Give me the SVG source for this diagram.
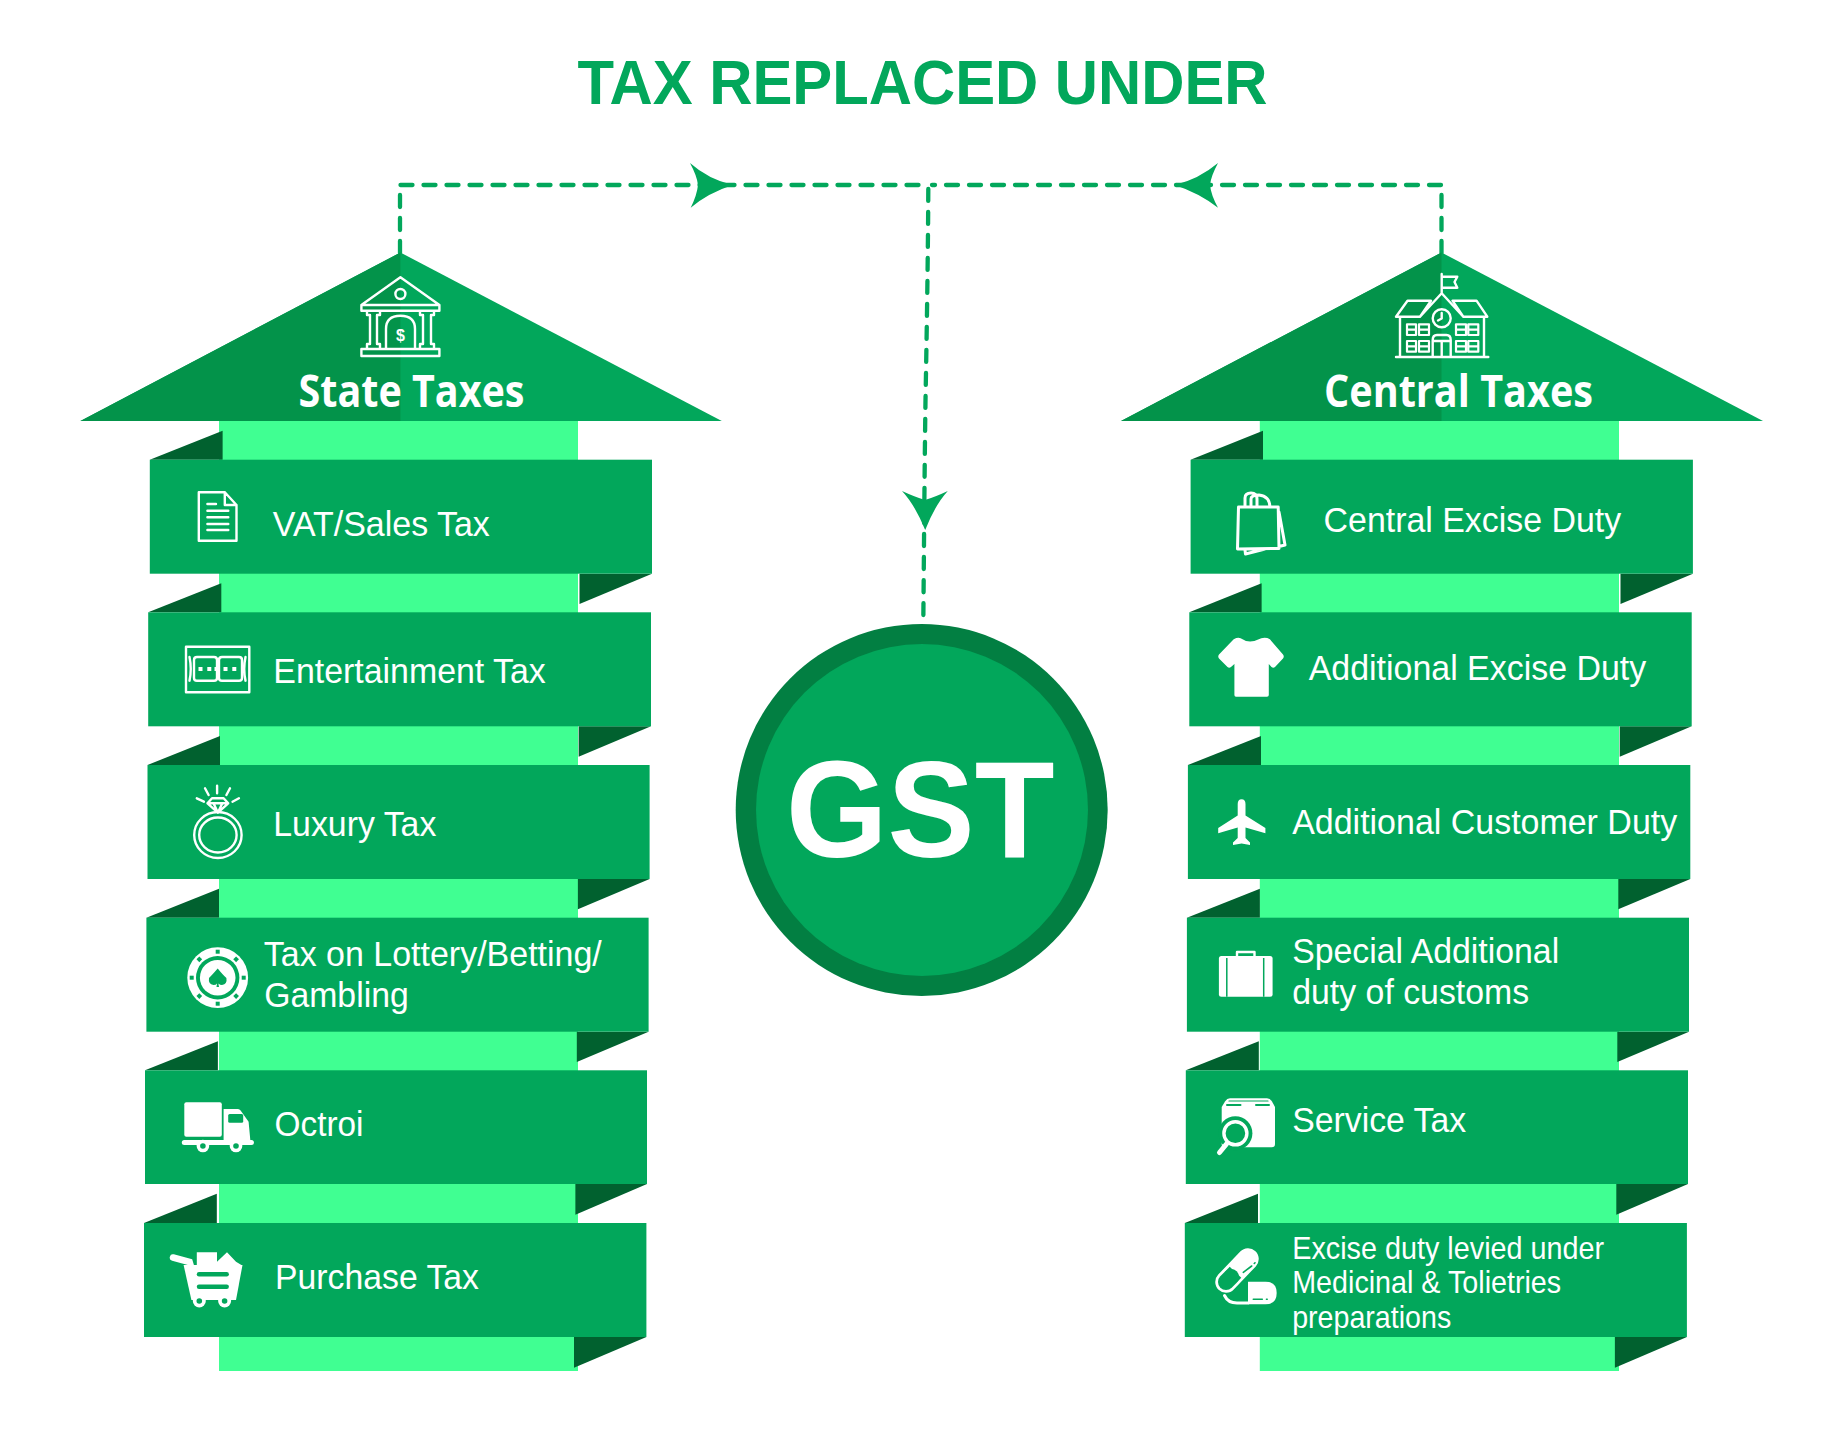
<svg xmlns="http://www.w3.org/2000/svg" width="1842" height="1439" viewBox="0 0 1842 1439">
<style>
.band{fill:#02a75b}
.strip{fill:#40ff92}
.fold{fill:#01612f}
.roofd{fill:#03934a}
.t{font-family:"Liberation Sans",Arial,sans-serif;fill:#fff;font-size:34.5px}
.s{font-size:30.5px}
.h{font-family:"Open Sans","Noto Sans",sans-serif;font-weight:700;fill:#fff;font-size:44px}
.dash{fill:none;stroke:#02a75b;stroke-width:4.3;stroke-linecap:round;stroke-dasharray:12 11}
.head{fill:#02a75b}
.ol{fill:none;stroke:#fff;stroke-width:2.4;stroke-linejoin:round;stroke-linecap:round}
.ol2{fill:none;stroke:#fff;stroke-width:3;stroke-linejoin:round;stroke-linecap:round}
.w{fill:#fff}
.g{fill:#02a75b}
.gl{fill:none;stroke:#02a75b;stroke-width:2.4;stroke-linecap:round}
</style>
<rect width="1842" height="1439" fill="#fff"/>
<text id="title" x="577.5" y="103.5" textLength="690" lengthAdjust="spacingAndGlyphs" style="font-family:'Liberation Sans',Arial,sans-serif;font-weight:700;font-size:62.5px;fill:#02a75b">TAX REPLACED UNDER</text>

<g id="connectors">
<path class="dash" d="M400 253V192"/>
<path class="dash" d="M1441.5 253V192"/>
<path class="dash" d="M400.5 185H928"/>
<path class="dash" d="M1441 185H932"/>
<path class="dash" d="M928.3 189C928 250 927 320 925.5 400C924.5 470 924 550 923.3 622"/>
<path class="head" d="M732.7 185Q708 179 690 163Q697 176 698 185Q697 195 690.7 207.7Q708 193 732.7 185Z"/>
<path class="head" d="M1174.7 185Q1199 179 1218 163Q1211 176 1210 185Q1211 195 1218 207.7Q1199 193 1174.7 185Z"/>
<path class="head" d="M925.2 530Q915 505 902 491Q915 497 925 500Q935 497 947.8 491Q935 505 925.2 530Z"/>
</g>

<g id="state-taxes">
<rect class="strip" x="219" y="421" width="359" height="950"/>
<path class="band" d="M80.4 421L400.4 252.5L721.8 421Z"/>
<path class="roofd" d="M80.4 421L400.4 252.5V421Z"/>
<path class="ol" d="M400.4 277.3L361.4 305V310.7H439.4V305ZM361.4 305H439.4M367 310.7H380V315H377V344H380V349H367V344H370V315H367ZM420 310.7H434V315H431V344H434V349H420V344H423V315H420ZM361.4 349H439.4V356H361.4ZM386 349V329Q386 315.7 400.4 315.7Q415 315.7 415 329V349"/>
<circle class="ol" cx="400.4" cy="294" r="5"/>
<text x="400.4" y="341" text-anchor="middle" style="font-family:'Liberation Sans',sans-serif;font-weight:700;font-size:16px;fill:#fff">$</text>
<text class="h" x="298.5" y="407" textLength="226" lengthAdjust="spacingAndGlyphs">State Taxes</text>
</g>

<g id="vat">
<path class="fold" d="M149.8 459.7L222.6 430.7V459.7Z"/>
<path class="fold" d="M652 573.7H579.5V604Z"/>
<rect class="band" x="149.8" y="459.7" width="502.2" height="114"/>
<path class="ol" d="M198.8 492.3H224.8L236.5 505V540.7H198.8ZM224.8 492.3V505H236.5M207.4 504H216M207.4 510.7H228.3M207.4 517.3H228.3M207.4 524H228.3M207.4 530H228.3"/>
<text class="t" x="272.8" y="536" textLength="217" lengthAdjust="spacingAndGlyphs">VAT/Sales Tax</text>
</g>

<g id="entertainment">
<path class="fold" d="M148.2 612.3L221.3 583.3V612.3Z"/>
<path class="fold" d="M651 726.3H578.6V756.7Z"/>
<rect class="band" x="148.2" y="612.3" width="502.8" height="114"/>
<path class="ol" d="M186 646.7V692.3H249.3V646.7H186M189.5 657Q192 669 189.5 680.7M245.5 657Q243 669 245.5 680.7M197 657H214Q217 657 217 660V678Q217 680.7 214 680.7H197Q194 680.7 194 678V660Q194 657 197 657ZM222 657H239Q242 657 242 660V678Q242 680.7 239 680.7H222Q219 680.7 219 678V660Q219 657 222 657Z"/>
<path class="w" d="M198.5 667h4v4h-4zM207.3 667h4v4h-4zM214.5 667h4v4h-4zM223.5 667h4v4h-4zM232.3 667h4v4h-4z"/>
<text class="t" x="273.3" y="683" textLength="272.5" lengthAdjust="spacingAndGlyphs">Entertainment Tax</text>
</g>

<g id="luxury">
<path class="fold" d="M147.5 765L220 736V765Z"/>
<path class="fold" d="M649.6 879H577.9V909.3Z"/>
<rect class="band" x="147.5" y="765" width="502.1" height="114"/>
<ellipse class="ol" cx="217.9" cy="835" rx="23.7" ry="23"/>
<ellipse class="ol" cx="217.9" cy="835" rx="18.7" ry="17.5"/>
<path class="ol" d="M212 798.3H223.6L228.2 803.3L217.9 812.7L207.5 803.3ZM207.5 803.3H228.2M213.5 803.3L217.9 812.7L222.3 803.3M217.1 785.7V793.3M205 788.3L208.6 795M230 788.3L226.4 795M196.8 798.3L203.9 801.7M238.9 798.3L232.5 801.7"/>
<text class="t" x="273.3" y="836" textLength="163" lengthAdjust="spacingAndGlyphs">Luxury Tax</text>
</g>

<g id="lottery">
<path class="fold" d="M146.4 917.7L219 888.7V917.7Z"/>
<path class="fold" d="M648.6 1031.7H576.8V1062Z"/>
<rect class="band" x="146.4" y="917.7" width="502.2" height="114"/>
<circle class="w" cx="217.7" cy="977.7" r="30.4"/>
<g class="g">
<rect x="215.7" y="949.7" width="4" height="4"/><rect x="215.7" y="1001.7" width="4" height="4"/><rect x="189.7" y="975.7" width="4" height="4"/><rect x="241.7" y="975.7" width="4" height="4"/>
<rect x="197.3" y="957.3" width="4" height="4" transform="rotate(45 199.3 959.3)"/><rect x="234.1" y="957.3" width="4" height="4" transform="rotate(45 236.1 959.3)"/><rect x="197.3" y="994.1" width="4" height="4" transform="rotate(45 199.3 996.1)"/><rect x="234.1" y="994.1" width="4" height="4" transform="rotate(45 236.1 996.1)"/>
</g>
<circle class="g" cx="217.7" cy="977.7" r="21.7"/>
<circle class="w" cx="217.7" cy="977.7" r="17.8"/>
<path class="g" d="M217.7 968.5Q212 975 209 978Q208 984 213.5 985Q216 985 217 983.5L216.5 987H219L218.4 983.5Q220 985 222 985Q227.5 984 226.4 978Q223 975 217.7 968.5Z"/>
<text class="t" x="263.8" y="966" textLength="338" lengthAdjust="spacingAndGlyphs">Tax on Lottery/Betting/</text>
<text class="t" x="264.2" y="1006.7" textLength="144.5" lengthAdjust="spacingAndGlyphs">Gambling</text>
</g>

<g id="octroi">
<path class="fold" d="M145 1070.3L217.9 1041.3V1070.3Z"/>
<path class="fold" d="M647 1184H575.4V1214.7Z"/>
<rect class="band" x="145" y="1070.3" width="502" height="113.7"/>
<rect class="w" x="184.3" y="1102.3" width="37.5" height="34.4" rx="2"/>
<path class="w" d="M223.6 1109H238Q239.6 1109 240.6 1110.5L248.6 1121.7L250.4 1141H223.6Z"/>
<rect class="g" x="228.2" y="1114" width="15" height="8.7" rx="1.5"/>
<rect class="w" x="181.8" y="1140" width="72.1" height="5" rx="2.5"/>
<circle class="w" cx="202.9" cy="1146" r="6.3"/><circle class="g" cx="202.9" cy="1146" r="2.8"/>
<circle class="w" cx="236" cy="1146" r="6.3"/><circle class="g" cx="236" cy="1146" r="2.8"/>
<text class="t" x="274.5" y="1135.7" textLength="89" lengthAdjust="spacingAndGlyphs">Octroi</text>
</g>

<g id="purchase">
<path class="fold" d="M144 1223L216.8 1193.7V1223Z"/>
<path class="fold" d="M646.4 1337H574V1367.7Z"/>
<rect class="band" x="144" y="1223" width="502.4" height="114"/>
<path class="w" d="M183.6 1265H242.5L236 1300H191.4Z"/>
<path d="M173 1257.5L189.6 1262L192 1270" fill="none" stroke="#fff" stroke-width="6.5" stroke-linecap="round"/>
<rect class="g" x="196.8" y="1272" width="32.1" height="4.4" rx="2.2"/>
<rect class="g" x="196.8" y="1284.6" width="32.1" height="4.4" rx="2.2"/>
<circle class="w" cx="199.3" cy="1301" r="6.5"/><circle class="g" cx="199.3" cy="1301" r="2.8"/>
<circle class="w" cx="224.6" cy="1301" r="6.5"/><circle class="g" cx="224.6" cy="1301" r="2.8"/>
<path class="w" d="M196.8 1252.3H217V1265H196.8ZM217 1261.7L227 1252.3L236 1261.7L241.4 1265H217Z"/>
<text class="t" x="275" y="1289" textLength="204" lengthAdjust="spacingAndGlyphs">Purchase Tax</text>
</g>

<g id="central-taxes">
<rect class="strip" x="1259.8" y="421" width="359.2" height="950"/>
<path class="band" d="M1121 421L1441.5 252.5L1763 421Z"/>
<path class="roofd" d="M1121 421L1441.5 252.5V421Z"/>
<path class="ol" d="M1441.7 293.3V274M1441.7 276.7H1457.3L1454.5 282L1457.3 287.7H1441.7M1441.7 293.3L1420 316.7L1431 300.7H1407.5L1396 316.7H1420M1441.7 293.3L1463.3 316.7L1452.5 300.7H1476.5L1487.3 316.7H1463.3M1400 316.7V356.7M1484 316.7V356.7M1396 357H1488.3M1432.7 357V340Q1432.7 335 1437 335H1446.4Q1450.7 335 1450.7 340V357M1432.7 341H1450.7M1441.7 341V357"/>
<circle class="ol" cx="1441.7" cy="318.3" r="9"/>
<path class="ol" d="M1441.7 313V318.5L1438 320.5"/>
<path class="ol" style="stroke-width:2.2" d="M1407 324.3h9v10.7h-9zM1419 324.3h10v10.7h-10zM1456 324.3h10v10.7h-10zM1468.3 324.3h10v10.7h-10zM1407 341h9v10.7h-9zM1419 341h10v10.7h-10zM1456 341h10v10.7h-10zM1468.3 341h10v10.7h-10zM1407 329.7h9M1419 329.7h10M1456 329.7h10M1468.3 329.7h10M1407 346.3h9M1419 346.3h10M1456 346.3h10M1468.3 346.3h10"/>
<text class="h" x="1324" y="407" textLength="269" lengthAdjust="spacingAndGlyphs">Central Taxes</text>
</g>

<g id="central-excise">
<path class="fold" d="M1190.6 459.7L1263 430.7V459.7Z"/>
<path class="fold" d="M1692.9 573.7H1620.5V604Z"/>
<rect class="band" x="1190.6" y="459.7" width="502.3" height="114"/>
<path class="ol2" d="M1238.5 507H1278.2L1279 548.5L1237.5 549ZM1245 507V498Q1245 493 1251 493Q1257 493 1257 499V507M1251 507V499Q1251 495 1259 495Q1269.5 496 1270 507M1279 512L1285 545L1279 546.5M1245 550L1245.5 554L1265 549"/>
<text class="t" x="1323.6" y="532" textLength="297.5" lengthAdjust="spacingAndGlyphs">Central Excise Duty</text>
</g>

<g id="additional-excise">
<path class="fold" d="M1189.3 612.3L1261.6 583.3V612.3Z"/>
<path class="fold" d="M1691.7 726.3H1619.7V756.7Z"/>
<rect class="band" x="1189.3" y="612.3" width="502.4" height="114"/>
<path class="w" d="M1233.7 639.3Q1238 637 1240.6 638.3Q1249.2 644.5 1261.3 638.3Q1266 637 1269.9 639.3L1283 654.5Q1284.5 656.7 1283 658.5L1275 667Q1273.3 668.5 1271.5 667L1268.8 664V695Q1268.8 696.7 1267 696.7H1236Q1234.4 696.7 1234.4 695V664L1231 667Q1229.2 668.5 1227.5 667L1219 658.5Q1217.5 656.7 1219 654.5Z"/>
<text class="t" x="1308.7" y="680" textLength="337.5" lengthAdjust="spacingAndGlyphs">Additional Excise Duty</text>
</g>

<g id="additional-customer">
<path class="fold" d="M1187.9 765L1261 736V765Z"/>
<path class="fold" d="M1690.3 879H1618.3V909.3Z"/>
<rect class="band" x="1187.9" y="765" width="502.4" height="114"/>
<path class="w" d="M1241.6 799.3Q1245.5 799.3 1245.5 804V815.5L1265.4 828V833.3L1245.5 827.5V838L1250 842.5V845L1241.6 843.5L1233 845V842.5L1237.7 838V827.5L1218.2 833.3V828L1237.7 815.5V804Q1237.7 799.3 1241.6 799.3Z"/>
<text class="t" x="1292.2" y="834" textLength="385" lengthAdjust="spacingAndGlyphs">Additional Customer Duty</text>
</g>

<g id="special-additional">
<path class="fold" d="M1186.9 917.7L1259.9 888.7V917.7Z"/>
<path class="fold" d="M1689 1031.7H1617.3V1062Z"/>
<rect class="band" x="1186.9" y="917.7" width="502.1" height="114"/>
<rect class="w" x="1218.9" y="956" width="53.7" height="40.7" rx="2.5"/>
<path class="ol" d="M1237 957V952H1254.5V957"/>
<path class="gl" style="stroke-linecap:butt;stroke-width:1.5" d="M1226.8 958V996.7M1263.7 958V996.7"/>
<text class="t" x="1292.2" y="963" textLength="267" lengthAdjust="spacingAndGlyphs">Special Additional</text>
<text class="t" x="1292.2" y="1004" textLength="237" lengthAdjust="spacingAndGlyphs">duty of customs</text>
</g>

<g id="service">
<path class="fold" d="M1185.8 1070.3L1258.8 1041.3V1070.3Z"/>
<path class="fold" d="M1688 1184H1616.3V1214.7Z"/>
<rect class="band" x="1185.8" y="1070.3" width="502.2" height="113.7"/>
<path class="w" d="M1230 1098.3H1267Q1270 1098.3 1272 1101.5L1275 1107V1144Q1275 1147.3 1271.7 1147.3H1225Q1221.7 1147.3 1221.7 1144V1107L1225 1101.5Q1227 1098.3 1230 1098.3Z"/>
<path class="gl" style="stroke-width:1.2" d="M1229 1101H1268"/>
<path class="gl" style="stroke-width:2" d="M1227 1105H1240.5M1256 1105H1269"/>
<circle class="g" cx="1235.4" cy="1133.3" r="17"/>
<circle cx="1235.4" cy="1133.3" r="11.5" fill="#02a75b" stroke="#fff" stroke-width="3.4"/>
<path d="M1226.5 1144L1219.5 1152.5" fill="none" stroke="#fff" stroke-width="5" stroke-linecap="round"/>
<text class="t" x="1292.2" y="1131.7" textLength="174" lengthAdjust="spacingAndGlyphs">Service Tax</text>
</g>

<g id="excise-levied">
<path class="fold" d="M1184.8 1223L1258 1193.7V1223Z"/>
<path class="fold" d="M1686.9 1337H1614.9V1367.7Z"/>
<rect class="band" x="1184.8" y="1223" width="502.1" height="114"/>
<path d="M1226 1282L1248 1259" stroke="#fff" stroke-width="21.5" stroke-linecap="round"/>
<path d="M1226 1282L1231 1277" stroke="#02a75b" stroke-width="16" stroke-linecap="round"/>
<path d="M1231 1277L1235.5 1272.3" stroke="#02a75b" stroke-width="16"/>
<path class="gl" style="stroke-width:1.6" d="M1243.3 1272.3L1251.7 1266M1254.3 1263.5L1255 1262.8"/>
<path d="M1248 1284H1266Q1274 1284 1274 1293Q1274 1302 1266 1302H1248Z" fill="#fff" stroke="#02a75b" stroke-width="0"/>
<path class="w" d="M1248 1281.7H1265.5Q1276.7 1281.7 1276.7 1293Q1276.7 1304.3 1265.5 1304.3H1248Z"/>
<path class="gl" style="stroke-width:1.6" d="M1253.3 1299.3H1262.3M1266.5 1299.3H1267.2"/>
<path class="ol2" d="M1224.5 1295.5Q1228 1303 1237 1303H1248"/>
<text class="t s" x="1292.2" y="1258.8" textLength="312" lengthAdjust="spacingAndGlyphs">Excise duty levied under</text>
<text class="t s" x="1292.2" y="1293" textLength="269" lengthAdjust="spacingAndGlyphs">Medicinal &amp; Tolietries</text>
<text class="t s" x="1292.2" y="1327.5" textLength="159" lengthAdjust="spacingAndGlyphs">preparations</text>
</g>

<g id="gst">
<circle cx="921.7" cy="810" r="186" fill="#027f42"/>
<circle class="band" cx="922" cy="810" r="166"/>
<text x="786" y="856.7" textLength="268.5" lengthAdjust="spacingAndGlyphs" style="font-family:'Liberation Sans',Arial,sans-serif;font-weight:700;font-size:137px;fill:#fff">GST</text>
</g>
</svg>
